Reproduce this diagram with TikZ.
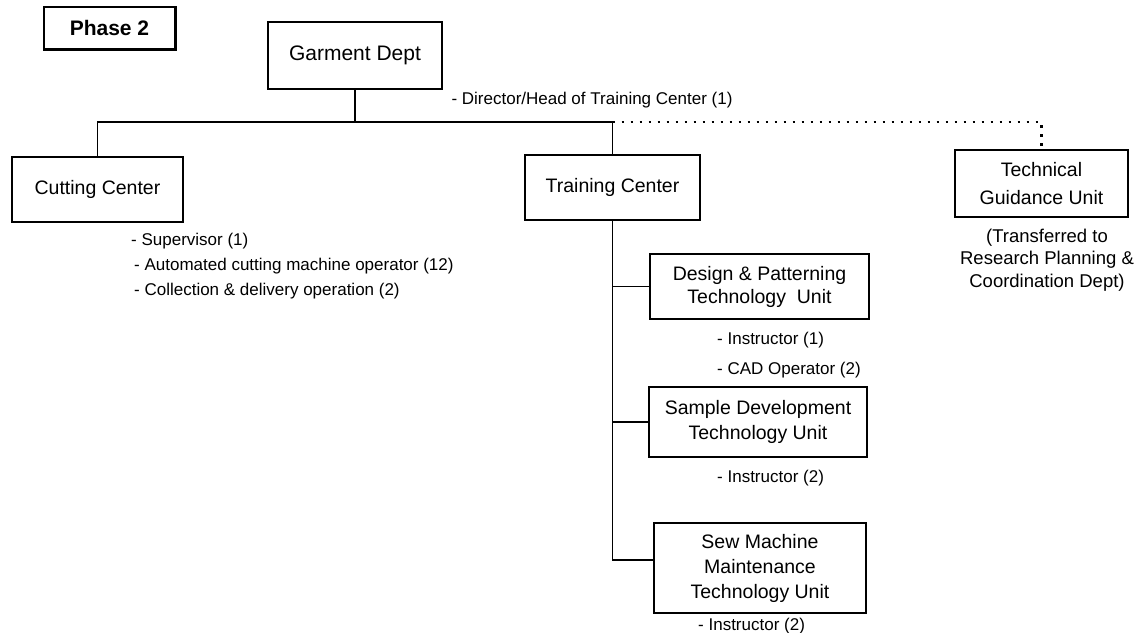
\documentclass[tikz,border=0pt]{standalone}
\usepackage{fontspec}
\setmainfont{Liberation Sans}
\begin{document}
\begin{tikzpicture}[x=1pt,y=-1pt,
  box/.style={draw, line width=1.3pt, rectangle, align=center, inner sep=0pt,
    font=\fontsize{19.5}{24}\selectfont},
  staff/.style={anchor=west, inner sep=0pt, font=\fontsize{17}{20}\selectfont},
  link/.style={line width=1.5pt},
  dotlink/.style={line width=2.8pt, dash pattern=on 2.6pt off 6.4pt}]
\useasboundingbox (0,0) rectangle (1146,632);

% phase label with heavier lower/right edges
\node[box, minimum width=131pt, minimum height=42pt, font=\bfseries\fontsize{21}{24}\selectfont] (phase) at (109.5,28) {Phase 2};
\draw[line width=2.6pt] (phase.north east) -- (phase.south east) -- (phase.south west);

% departments and centers
\node[box, minimum width=174pt, minimum height=67pt, font=\fontsize{21}{24}\selectfont] (garment) at (355,55.5) {Garment Dept};
\node[box, minimum width=171pt, minimum height=65pt] (cut) at (97.5,189.5) {Cutting Center};
\node[box, minimum width=175pt, minimum height=65pt] (train) at (612.5,187.5) {Training Center};
\node[box, minimum width=173pt, minimum height=67pt, font=\fontsize{19.5}{28}\selectfont] (tech) at (1041.5,183.5) {Technical\\Guidance Unit};

% units under the training center
\node[box, minimum width=219pt, minimum height=65pt, font=\fontsize{19.5}{23}\selectfont] (design) at (759.5,286.5) {Design \& Patterning\\Technology\ \ Unit};
\node[box, minimum width=218pt, minimum height=70pt, font=\fontsize{19.5}{25}\selectfont] (sample) at (758,422) {Sample Development\\Technology Unit};
\node[box, minimum width=212pt, minimum height=90pt, font=\fontsize{19.5}{25}\selectfont] (sew) at (760,568) {Sew Machine\\Maintenance\\Technology Unit};

% connectors
\coordinate (bus) at (0,122);
\coordinate (sewjoin) at (654,560);
\draw[link] (garment.south) -- (garment.south |- bus);
\draw[link] (cut.north) |- (train.north |- bus) -- (train.north);
\draw[dotlink] (train.north |- bus) -| (tech.north);
\draw[link] (train.south) |- (sewjoin);
\draw[link] (train.south |- design.west) -- (design.west);
\draw[link] (train.south |- sample.west) -- (sample.west);

% staffing notes
\node[staff, anchor=center] (director) at (592,100) {- Director/Head of Training Center (1)};
\node[staff] (c1) at (131,241) {- Supervisor (1)};
\node[staff] (c2) at (134,266) {- Automated cutting machine operator (12)};
\node[staff] (c3) at (134,291) {- Collection \& delivery operation (2)};
\node[staff] (d1) at (717,340) {- Instructor (1)};
\node[staff] (d2) at (717,370) {- CAD Operator (2)};
\node[staff] (s1) at (717,478) {- Instructor (2)};
\node[staff] (w1) at (698,626) {- Instructor (2)};
\node[inner sep=0pt, align=center, font=\fontsize{18.5}{22.5}\selectfont] (note) at (1047,260) {(Transferred to\\Research Planning \&\\Coordination Dept)};
\end{tikzpicture}
\end{document}
